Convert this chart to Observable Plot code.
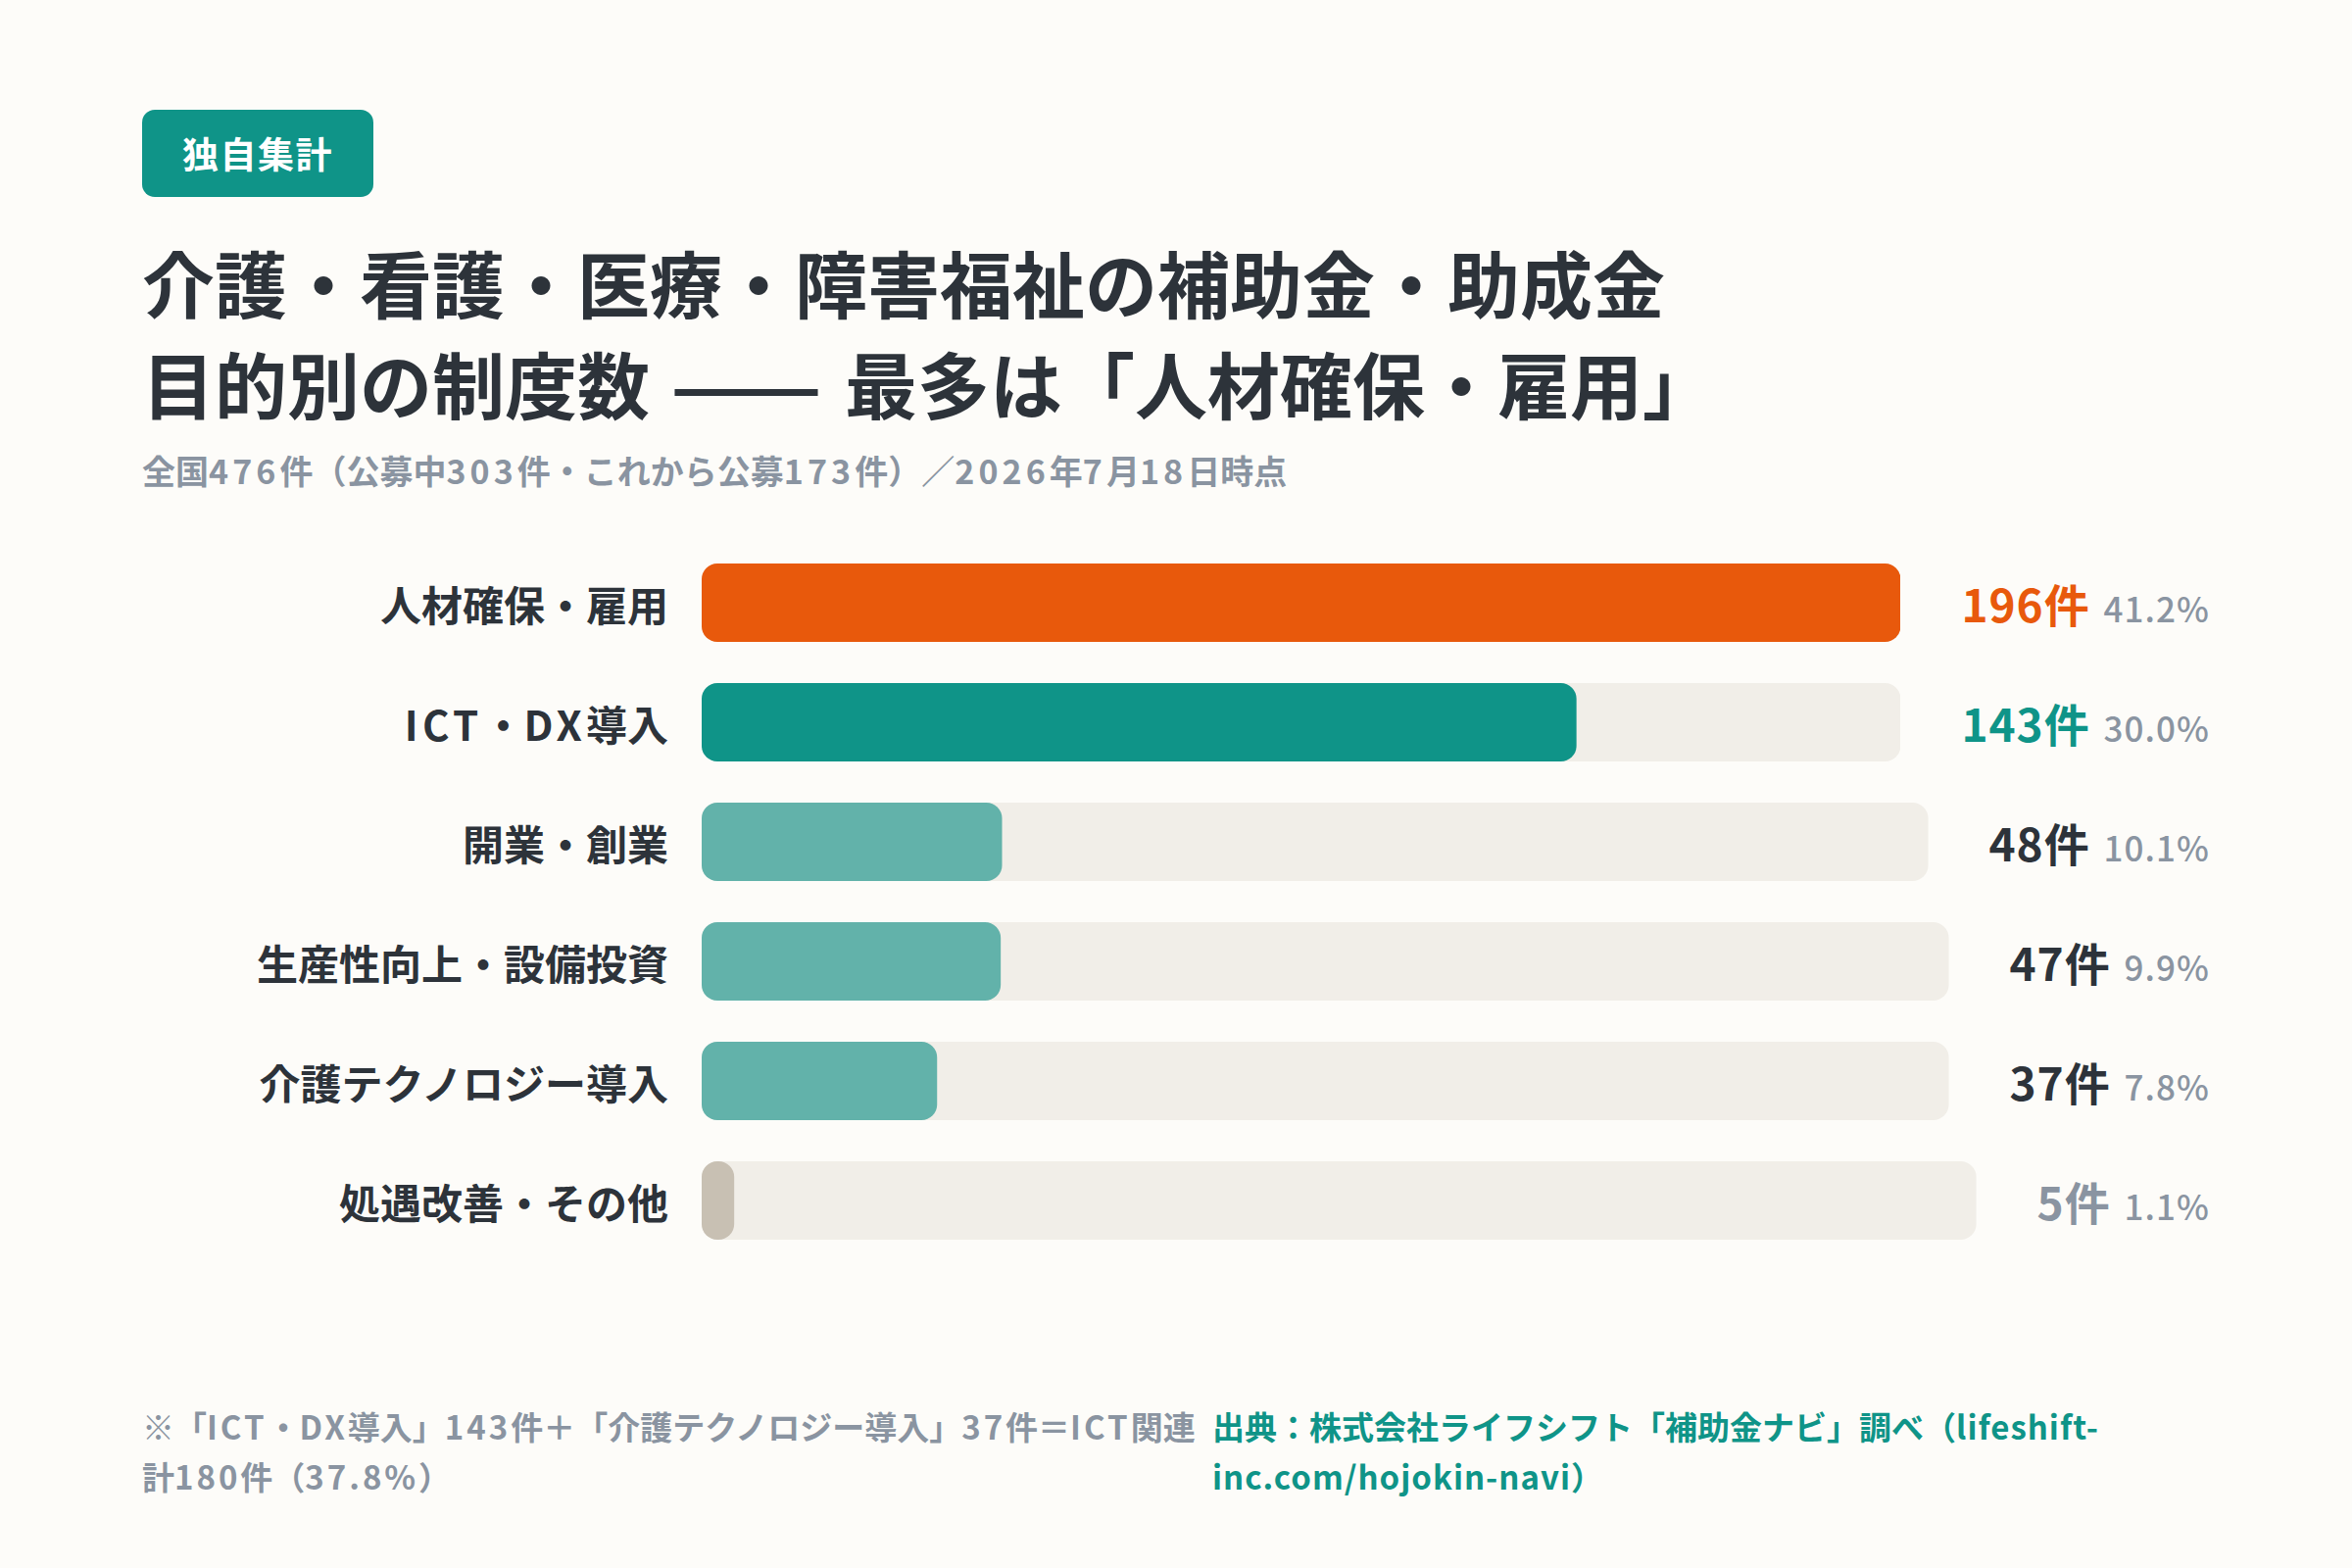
<!DOCTYPE html>
<html lang="ja">
<head>
<meta charset="utf-8">
<script src="https://cdn.jsdelivr.net/npm/d3@7"></script>
<script src="https://cdn.jsdelivr.net/npm/@observablehq/plot@0.6"></script>
<style>
  html, body { margin: 0; padding: 0; }
  body {
    width: 2400px; height: 1600px; overflow: hidden; position: relative;
    background: #FDFCF9; color: #2D333A;
    font-family: "Noto Sans CJK JP", "Noto Sans", sans-serif;
  }
  .wrap { position: absolute; left: 145px; top: 112px; width: 2110px; }
  .badge {
    display: inline-block; height: 89px; line-height: 89px; padding: 0 41px;
    background: #0F9488; color: #fff; border-radius: 13px;
    font-size: 37px; font-weight: 700; letter-spacing: 0.04em;
  }
  h1 { margin: 34px 0 0; font-size: 74px; line-height: 103px; font-weight: 700; letter-spacing: 0; }
  h1 .dash { display: inline-block; width: 155px; margin: 0 23px 0 21px; white-space: nowrap; }
  h1 .dash span { display: inline-block; transform-origin: left center; }
  .sub { margin-top: 13px; font-size: 34px; line-height: 51px; font-weight: 700; color: #8A94A1; }
  .sub .lt { letter-spacing: 0.12em; }
  .rows { margin-top: 70px; }
  .row { display: flex; align-items: center; height: 80px; margin-bottom: 42px; }
  .label { flex: none; width: 537px; text-align: right; font-size: 42px; font-weight: 700; white-space: nowrap; }
  .label .lt { letter-spacing: 0.1em; }
  .track { flex: 1 1 auto; min-width: 0; margin-left: 34px; height: 80px; }
  .track svg { display: block; }
  .val { flex: none; margin-left: 62px; white-space: nowrap; }
  .count { font-size: 46px; font-weight: 700; letter-spacing: 0.02em; }
  .pct { margin-left: 14px; font-size: 35px; font-weight: 500; color: #8A94A1; letter-spacing: 0.03em; }
  .foot { position: absolute; left: 145px; top: 1430px; display: flex; font-size: 33px; line-height: 51px; font-weight: 700; }
  .note { width: 1092px; color: #8A94A1; white-space: nowrap; }
  .note .lt { letter-spacing: 0.09em; }
  .src { color: #0F9488; white-space: nowrap; }
  .src .lt { letter-spacing: 0.03em; }
</style>
</head>
<body>
<div class="wrap">
  <div class="badge">独自集計</div>
  <h1>介護・看護・医療・障害福祉の補助金・助成金<br>目的別の制度数<span class="dash"><span id="dash">——</span></span>最多は「人材確保・雇用」</h1>
  <div class="sub" id="sub">全国476件（公募中303件・これから公募173件）／2026年7月18日時点</div>
  <div class="rows" id="rows"></div>
</div>
<div class="foot">
  <div class="note" id="note">※「ICT・DX導入」143件＋「介護テクノロジー導入」37件＝ICT関連<br>計180件（37.8%）</div>
  <div class="src" id="src">出典：株式会社ライフシフト「補助金ナビ」調べ（lifeshift-<br>inc.com/hojokin-navi）</div>
</div>
<script>
// 目的別の制度数（件）と全体に占める割合（%）
const categories = ["人材確保・雇用", "ICT・DX導入", "開業・創業", "生産性向上・設備投資", "介護テクノロジー導入", "処遇改善・その他"];
const counts = [196, 143, 48, 47, 37, 5];
const shares = [41.2, 30.0, 10.1, 9.9, 7.8, 1.1];

// 行ごとの配色（バー・件数ラベル）
const barFill = ["#E8590C", "#0F9488", "#62B2AA", "#62B2AA", "#62B2AA", "#C8C0B3"];
const countFill = ["#E8590C", "#0F9488", "#2D333A", "#2D333A", "#2D333A", "#8A94A1"];
const trackFill = "#F1EEE8";

// 見出しのダッシュを枠いっぱいに伸ばす
const dash = document.getElementById("dash");
dash.style.transform = `scaleX(${155 / dash.getBoundingClientRect().width})`;

// 英数字の連なりを span.lt で包み、字間を和文と揃える
function wrapLatin(el) {
  const walker = document.createTreeWalker(el, NodeFilter.SHOW_TEXT);
  const nodes = [];
  while (walker.nextNode()) nodes.push(walker.currentNode);
  for (const node of nodes) {
    const parts = node.nodeValue.split(/([A-Za-z0-9.%\/-]+)/);
    if (parts.length < 2) continue;
    const frag = document.createDocumentFragment();
    parts.forEach((part, k) => {
      if (!part) return;
      if (k % 2) {
        const s = document.createElement("span");
        s.className = "lt";
        s.textContent = part;
        frag.append(s);
      } else frag.append(part);
    });
    node.replaceWith(frag);
  }
}
["sub", "note", "src"].forEach((id) => wrapLatin(document.getElementById(id)));

const rows = categories.map((category, i) => ({category, count: counts[i], share: shares[i]}));
const maxCount = d3.max(counts);
const container = document.getElementById("rows");

rows.forEach((row, i) => {
  const el = document.createElement("div");
  el.className = "row";

  const label = document.createElement("div");
  label.className = "label";
  label.textContent = row.category;
  wrapLatin(label);

  const track = document.createElement("div");
  track.className = "track";

  const val = document.createElement("div");
  val.className = "val";
  const c = document.createElement("span");
  c.className = "count";
  c.style.color = countFill[i];
  c.textContent = `${row.count}件`;
  const p = document.createElement("span");
  p.className = "pct";
  p.textContent = `${row.share.toFixed(1)}%`;
  val.append(c, p);

  el.append(label, track, val);
  container.append(el);

  // 各行のトラック幅に合わせて、最大件数を全長とするバーを描く
  const width = track.getBoundingClientRect().width;
  const chart = Plot.plot({
    width,
    height: 80,
    margin: 0,
    style: {background: "transparent"},
    x: {domain: [0, maxCount], axis: null},
    marks: [
      Plot.barX([maxCount], {x: (d) => d, fill: trackFill, rx: 16}),
      Plot.barX([row], {x: "count", fill: barFill[i], rx: 16})
    ]
  });
  track.append(chart);
});
</script>
</body>
</html>
